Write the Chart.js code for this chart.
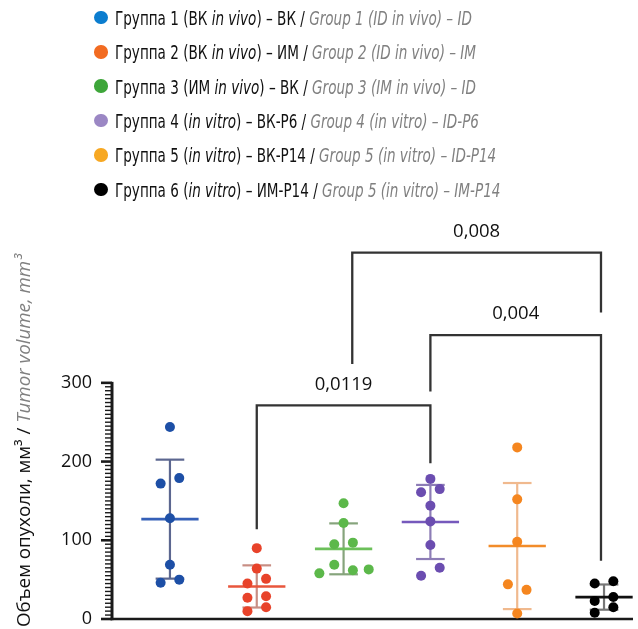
<!DOCTYPE html>
<html><head><meta charset="utf-8">
<script src="https://cdn.jsdelivr.net/npm/chart.js@4.4.1/dist/chart.umd.min.js"></script>
<style>
html,body{margin:0;padding:0;background:#fff;}
#wrap{position:relative;width:638px;height:629px;overflow:hidden;}
#c{position:absolute;left:0;top:0;}
.row{position:absolute;left:115px;white-space:nowrap;font-family:"Liberation Sans Narrow","DejaVu Sans Condensed","Open Sans";font-size:20px;color:#111;transform-origin:0 50%;line-height:20px;}
.dot{position:absolute;width:13.5px;height:13.5px;border-radius:50%;}
.en{color:#808080;font-style:italic;}
#ytitle{position:absolute;white-space:nowrap;font-family:"Open Sans";font-size:18.5px;color:#111;line-height:20px;transform-origin:0 0;}
</style>
</head><body>
<div id="wrap"><canvas id="c" width="638" height="629"></canvas>
<div id="legend"></div><div id="ytitle">Объем опухоли, мм³ / <span class="en">Tumor volume, mm³</span></div></div>
<script>
// ---- data ----
const groupIds = [1, 2, 3, 4, 5, 6];
const legendRu = [
  'Группа 1 (ВК <i>in vivo</i>) – ВК',
  'Группа 2 (ВК <i>in vivo</i>) – ИМ',
  'Группа 3 (ИМ <i>in vivo</i>) – ВК',
  'Группа 4 (<i>in vitro</i>) – ВК-Р6',
  'Группа 5 (<i>in vitro</i>) – ВК-Р14',
  'Группа 6 (<i>in vitro</i>) – ИМ-Р14'
];
const legendEn = [
  'Group 1 (ID in vivo) – ID',
  'Group 2 (ID in vivo) – IM',
  'Group 3 (IM in vivo) – ID',
  'Group 4 (in vitro) – ID-P6',
  'Group 5 (in vitro) – ID-P14',
  'Group 5 (in vitro) – IM-P14'
];
const g1 = [244, 179, 172, 128, 69, 50, 46];
const g2 = [90, 64, 51, 45, 29, 27, 15, 10];
const g3 = [147, 122, 97, 95, 69, 63, 62, 58];
const g4 = [178, 165, 161, 144, 124, 94, 65, 55];
const g5 = [218, 152, 98, 44, 37, 7];
const g6 = [48, 45, 28, 23, 15, 8];
// swarm column of each point (-1 left, 0 centre, +1 right ...)
const c1 = [0, 1, -1, 0, 0, 1, -1];
const c2 = [0, 0, 1, -1, 1, -1, 1, -1];
const c3 = [0, 0, 1, -1, -1, 2.7, 1, -2.6];
const c4 = [0, 1, -1, 0, 0, 0, 1, -1];
const c5 = [0, 0, 0, -1, 1, 0];
const c6 = [1, -1, 1, -1, 1, -1];
const yTicks = [0, 100, 200, 300];
// significance brackets (x in group units, y in mm3)
const brLabels = ['0,0119', '0,004', '0,008'];
const brFrom = [2, 4, 3.1];
const brTo = [4, 5.965, 5.965];
const brTop = [271.5, 360.5, 465.5];
const brFromEnd = [114, 289, 324];
const brToEnd = [198, 74, 389.5];

const groups = [g1, g2, g3, g4, g5, g6];
const cols = [c1, c2, c3, c4, c5, c6];
const pointColors = ['#1d4fa6', '#e8432a', '#5cb84a', '#6b4db0', '#f5861f', '#000000'];
const meanColors = ['#3560b8', '#e8563c', '#6cc05a', '#7659bc', '#f28c2a', '#111111'];
const sdColors = ['#5c6790', '#c88e84', '#86a47c', '#8d7db6', '#f0b98e', '#777777'];
const legendColors = ['#0b7dcf', '#f26b21', '#3ea63a', '#9b87c4', '#f7a823', '#000000'];

// ---- legend (HTML text) ----
const legend = document.getElementById('legend');
const rowCenters = [17.4, 51.8, 86.2, 120.6, 155, 189.4];
const rows = [];
legendRu.forEach((ru, i) => {
  const d = document.createElement('div');
  d.className = 'dot';
  d.style.background = legendColors[i];
  d.style.left = (101 - 6.75) + 'px';
  d.style.top = (rowCenters[i] - 6.75) + 'px';
  legend.appendChild(d);
  const r = document.createElement('div');
  r.className = 'row';
  r.innerHTML = ru + ' / <span class="en">' + legendEn[i] + '</span>';
  r.style.top = (rowCenters[i] - 9.6) + 'px';
  legend.appendChild(r);
  rows.push(r);
});
const sx = 357 / rows[0].offsetWidth;
rows.forEach(r => r.style.transform = 'scaleX(' + sx + ')');

const yt = document.getElementById('ytitle');
const ys = 373 / yt.offsetWidth;
yt.style.left = '12.5px';
yt.style.top = '627px';
yt.style.transform = 'rotate(-90deg) scaleX(' + ys + ')';

// ---- chart ----
const pxPerUnit = 87.65;
const xMin = 1 - 58.5 / pxPerUnit;
const xMax = xMin + 526 / pxPerUnit;
const jit = 9.4 / pxPerUnit;

const datasets = groups.map((vals, i) => ({
  label: legendRu[i].replace(/<\/?i>/g, '') + ' / ' + legendEn[i],
  data: vals.map((v, k) => ({ x: groupIds[i] + cols[i][k] * jit, y: v })),
  backgroundColor: pointColors[i],
  borderColor: pointColors[i],
  pointRadius: 5,
  borderWidth: 0,
  pointHoverRadius: 5
}));

function mean(a) { return a.reduce((s, v) => s + v, 0) / a.length; }
function sd(a) { const m = mean(a); return Math.sqrt(a.reduce((s, v) => s + (v - m) * (v - m), 0) / (a.length - 1)); }

function line(ctx, x1, y1, x2, y2) { ctx.beginPath(); ctx.moveTo(x1, y1); ctx.lineTo(x2, y2); ctx.stroke(); }

const decor = {
  id: 'decor',
  beforeDatasetsDraw(chart) {
    const { ctx, chartArea } = chart;
    const x = chart.scales.x, y = chart.scales.y;
    ctx.save();
    ctx.lineCap = 'butt';
    // axes
    ctx.strokeStyle = '#1a1a1a';
    ctx.lineWidth = 3;
    line(ctx, chartArea.left, y.getPixelForValue(0) + 1.2, chartArea.left, y.getPixelForValue(300) - 1);
    ctx.lineWidth = 1.4;
    for (let v = 5; v < 300; v += 5) {
      if (v % 100 === 0) continue;
      const py = y.getPixelForValue(v);
      line(ctx, chartArea.left - 7, py, chartArea.left, py);
    }
    ctx.lineWidth = 2.6;
    yTicks.forEach(v => { const py = y.getPixelForValue(v); line(ctx, chartArea.left - 11, py, chartArea.left, py); });
    ctx.lineWidth = 2.5;
    line(ctx, chartArea.left - 1.5, y.getPixelForValue(0), chartArea.right, y.getPixelForValue(0));
    // mean and SD bars
    groups.forEach((vals, i) => {
      const m = mean(vals), s = sd(vals);
      const cx = x.getPixelForValue(groupIds[i]);
      const capL = x.getPixelForValue(groupIds[i] - 0.165), capR = x.getPixelForValue(groupIds[i] + 0.165);
      const mL = x.getPixelForValue(groupIds[i] - 0.33), mR = x.getPixelForValue(groupIds[i] + 0.33);
      const yt = y.getPixelForValue(m + s), yb = y.getPixelForValue(Math.max(0, m - s)), ym = y.getPixelForValue(m);
      ctx.strokeStyle = sdColors[i];
      ctx.lineWidth = 2.2;
      line(ctx, cx, yt, cx, yb);
      line(ctx, capL, yt, capR, yt);
      line(ctx, capL, yb, capR, yb);
      ctx.strokeStyle = meanColors[i];
      ctx.lineWidth = 2.6;
      line(ctx, mL, ym, mR, ym);
    });
    // brackets
    ctx.strokeStyle = '#333333';
    ctx.lineWidth = 2.3;
    ctx.lineJoin = 'miter';
    ctx.fillStyle = '#111';
    ctx.font = '18.5px "Open Sans"';
    ctx.textAlign = 'center';
    ctx.textBaseline = 'middle';
    brLabels.forEach((lab, i) => {
      const x1 = x.getPixelForValue(brFrom[i]), x2 = x.getPixelForValue(brTo[i]);
      const yt = y.getPixelForValue(brTop[i]);
      ctx.beginPath();
      ctx.moveTo(x1, y.getPixelForValue(brFromEnd[i]));
      ctx.lineTo(x1, yt);
      ctx.lineTo(x2, yt);
      ctx.lineTo(x2, y.getPixelForValue(brToEnd[i]));
      ctx.stroke();
      ctx.fillText(lab, (x1 + x2) / 2, yt - 21);
    });
    ctx.restore();
  }
};

new Chart(document.getElementById('c'), {
  type: 'scatter',
  data: { datasets },
  options: {
    responsive: false,
    devicePixelRatio: 1,
    animation: false,
    layout: { padding: { top: 0, bottom: 10, left: 0, right: 0 } },
    plugins: { legend: { display: false }, tooltip: { enabled: false } },
    scales: {
      x: { type: 'linear', display: false, min: xMin, max: xMax },
      y: {
        type: 'linear', min: 0, max: 780, position: 'left',
        afterFit(s) { s.width = 112; s.paddingTop = 0; s.paddingBottom = 0; },
        grid: { display: false, drawTicks: false },
        border: { display: false },
        ticks: {
          stepSize: 100, padding: 20, autoSkip: false,
          font: { family: 'Open Sans', size: 18 }, color: '#111',
          callback: v => yTicks.includes(v) ? String(v) : ''
        }
      }
    }
  },
  plugins: [decor]
});
</script>
</body></html>
